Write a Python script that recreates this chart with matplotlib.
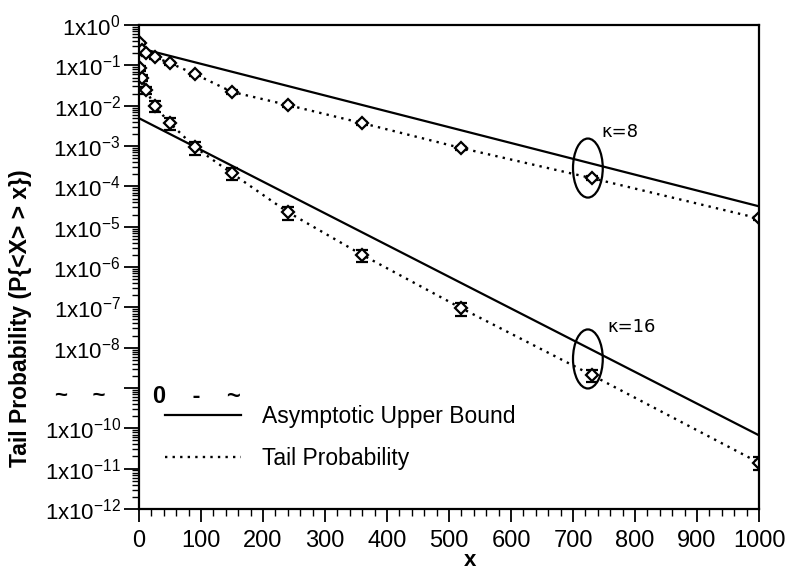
import matplotlib
matplotlib.use("Agg")
import matplotlib.pyplot as plt
from matplotlib.lines import Line2D
from matplotlib.patches import Ellipse
from matplotlib.ticker import FixedLocator, LogLocator, MultipleLocator, NullFormatter

plt.rcParams['font.family'] = ['Liberation Sans', 'DejaVu Sans']
plt.rcParams['mathtext.fontset'] = 'custom'
plt.rcParams['mathtext.rm'] = 'Liberation Sans'
plt.rcParams['mathtext.it'] = 'Liberation Sans:italic'
plt.rcParams['mathtext.bf'] = 'Liberation Sans:bold'

# ---- data ----
x_points = [1, 5, 12, 25, 50, 90, 150, 240, 360, 520, 730, 1000]
tail_k8 = [0.36, 0.24, 0.20, 0.16, 0.114, 0.061, 0.022, 0.0104, 0.0037, 0.00089, 0.00016, 1.6e-5]
err_k8 = [0.03, 0.02, 0.015, 0.012, 0.009, 0.005, 0.002, 0.0009, 0.0003, 8e-5, 1.6e-5, 1.6e-6]
tail_k16 = [0.086, 0.05, 0.024, 0.0098, 0.0037, 0.00094, 0.00021, 2.3e-5, 2.0e-6, 9.5e-8, 2.1e-9, 1.4e-11]
err_k16 = [0.012, 0.008, 0.005, 0.003, 0.0012, 0.00033, 7e-5, 8e-6, 7e-7, 3.3e-8, 7e-10, 5e-12]

bound_x = [0, 1000]
bound_k8 = [0.27, 3.2e-5]
bound_k16 = [0.0049, 6.7e-11]

x_ticks = [0, 100, 200, 300, 400, 500, 600, 700, 800, 900, 1000]
y_exponents = [0, -1, -2, -3, -4, -5, -6, -7, -8, -9, -10, -11, -12]
legend_labels = ["Asymptotic Upper Bound", "Tail Probability"]
kappa_labels = ["κ=8", "κ=16"]

fig = plt.figure(figsize=(7.88, 5.83), dpi=100)
ax = fig.add_axes([0.1764, 0.127, 0.7868, 0.830])

dot = (0, (1.0, 2.2))
for ys in (bound_k8, bound_k16):
    ax.plot(bound_x, ys, color='black', lw=1.6, solid_capstyle='butt')
for ys, es in ((tail_k8, err_k8), (tail_k16, err_k16)):
    ax.plot(x_points, ys, color='black', lw=1.7, linestyle=dot)
    ax.errorbar(x_points, ys, yerr=es, fmt='D', ms=6.5, mfc='white', mec='black',
                mew=1.6, ecolor='black', elinewidth=1.6, capsize=4.5, capthick=1.6,
                linestyle='none')

ax.set_yscale('log')
ax.set_xlim(0, 1000)
ax.set_ylim(1e-12, 1)

ax.xaxis.set_major_locator(FixedLocator(x_ticks))
ax.xaxis.set_minor_locator(MultipleLocator(20))
ax.set_xticklabels([str(t) for t in x_ticks])

ax.yaxis.set_major_locator(FixedLocator([10.0 ** e for e in y_exponents]))
ax.yaxis.set_minor_locator(LogLocator(base=10, subs=range(2, 10), numticks=100))
ax.yaxis.set_minor_formatter(NullFormatter())
ylabels = []
for e in y_exponents:
    if e == -9:
        ylabels.append('')
    else:
        ylabels.append(r'1x10$^{%d}$' % e)
ax.set_yticklabels(ylabels)

ax.tick_params(axis='x', which='major', direction='out', length=9, width=1.3,
               labelsize=17, pad=6)
ax.tick_params(axis='y', which='major', direction='out', length=11, width=1.3,
               labelsize=16, pad=2)
ax.tick_params(axis='both', which='minor', direction='out', length=5, width=1.0)
ax.tick_params(top=False, right=False, which='both')
for s in ax.spines.values():
    s.set_linewidth(1.6)

# garbled -9 tick label as it appears in the reference
trans = ax.get_yaxis_transform()
ax.text(-0.135, 1e-9 * 0.63, "~    ~", transform=trans, ha='left', va='center',
        fontsize=16, fontweight='bold')
ax.text(0.022, 1e-9 * 0.63, "0    -    ~", transform=trans, ha='left', va='center',
        fontsize=17, fontweight='bold')

ax.set_xlabel('x', fontsize=16, fontweight='bold')
ax.xaxis.set_label_coords(0.534, -0.085)
ax.set_ylabel('Tail Probability (P{<X> > x})', fontsize=16.5, fontweight='bold')
ax.yaxis.set_label_coords(-0.172, 0.395)

# ellipses and kappa labels
for (cy, lab, lx, ly) in ((0.7045, kappa_labels[0], 0.776, 0.779),
                          (0.310, kappa_labels[1], 0.795, 0.376)):
    ax.add_patch(Ellipse((0.724, cy), 0.048, 0.122, transform=ax.transAxes,
                         fill=False, ec='black', lw=1.6))
    ax.text(lx, ly, lab, transform=ax.transAxes, ha='center', va='center',
            fontsize=13, family=['DejaVu Sans'])

handles = [Line2D([], [], color='black', lw=1.6),
           Line2D([], [], color='black', lw=1.7, linestyle=dot)]
ax.legend(handles, legend_labels, loc='upper left', bbox_to_anchor=(0.042, 0.215),
          frameon=False, fontsize=16.5, handlelength=3.3, handletextpad=0.95,
          labelspacing=0.85, borderpad=0, borderaxespad=0)

fig.savefig('out.png', dpi=100)
